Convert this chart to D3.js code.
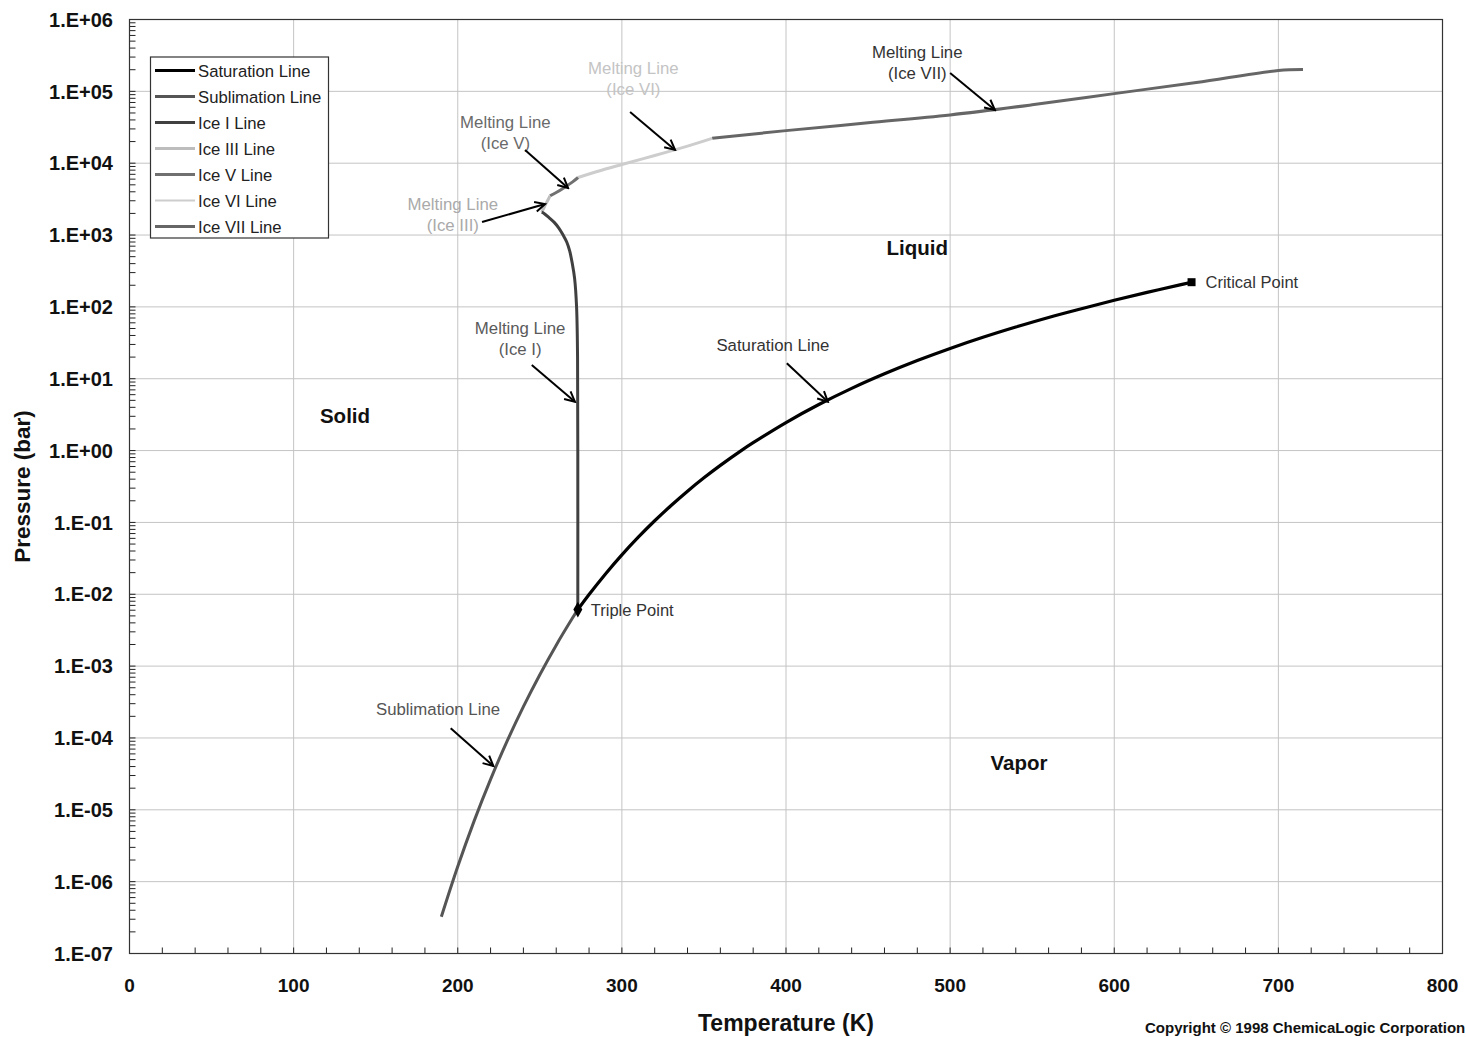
<!DOCTYPE html>
<html>
<head>
<meta charset="utf-8">
<title>Water phase diagram</title>
<script src="https://d3js.org/d3.v7.min.js"></script>
<style>
  body { margin: 0; background: #fff; }
  text { font-family: "Liberation Sans", Arial, sans-serif; }
</style>
</head>
<body>
<div id="chart"></div>
<script>
// temperature (K) and pressure (bar)
let satT = [273.16, 280, 290, 300, 310, 320, 330, 340, 350, 360, 373.15, 380, 400, 420, 440, 460, 480, 500, 520, 540, 560, 580, 600, 620, 640, 647.1];
let satP = [0.006117, 0.009918, 0.0192, 0.03537, 0.06231, 0.1055, 0.1719, 0.2718, 0.4172, 0.6219, 1.0142, 1.2869, 2.4577, 4.373, 7.3367, 11.697, 17.905, 26.392, 37.69, 52.379, 71.225, 94.231, 123.46, 159.11, 202.26, 220.64];

let sublT = [190, 200, 210, 220, 230, 240, 250, 260, 270, 273.16];
let sublP = [3.24e-7, 1.62e-6, 7.01e-6, 2.655e-5, 8.95e-5, 2.728e-4, 7.595e-4, 1.958e-3, 4.70e-3, 6.117e-3];

let ice1T = [273.16, 273.15, 273.0, 272.4, 271.2, 269.8, 268.2, 266.4, 264.2, 261.6, 258.8, 255.6, 252.6, 251.165];
let ice1P = [0.006117, 1, 20, 100, 250, 400, 600, 800, 1000, 1250, 1500, 1750, 2000, 2085];

let ice3T = [251.165, 252.5, 254, 255.2, 256.164];
let ice3P = [2085, 2400, 2800, 3150, 3501];

let ice5T = [256.164, 260, 265, 270, 273.31];
let ice5P = [3501, 3900, 4600, 5500, 6324];

let ice6T = [273.31, 290, 300, 320, 340, 355];
let ice6P = [6324, 8300, 9600, 12800, 17300, 22160];

let ice7T = [355, 400, 450, 500, 550, 600, 650, 700, 715];
let ice7P = [22160, 28400, 36500, 47000, 65000, 93000, 133000, 195000, 201000];

let seriesNames = ["Saturation Line", "Sublimation Line", "Ice I Line", "Ice III Line", "Ice V Line", "Ice VI Line", "Ice VII Line"];
let seriesColors = ["#000000", "#555555", "#404040", "#bdbdbd", "#707070", "#cdcdcd", "#666666"];

let xTicks = [0, 100, 200, 300, 400, 500, 600, 700, 800];
let yTicks = [1e-7, 1e-6, 1e-5, 1e-4, 1e-3, 1e-2, 1e-1, 1, 1e1, 1e2, 1e3, 1e4, 1e5, 1e6];

let triplePoint = [273.16, 0.006117];
let criticalPoint = [647.1, 220.64];

// annotation text: [label lines, T, P, colour]
let notes = [
    [["Melting Line", "(Ice VII)"], 480, 3.5e5, "#333"],
    [["Melting Line", "(Ice VI)"], 307, 2.1e5, "#c4c4c4"],
    [["Melting Line", "(Ice V)"], 229, 3.7e4, "#6a6a6a"],
    [["Melting Line", "(Ice III)"], 197, 2700, "#aaaaaa"],
    [["Melting Line", "(Ice I)"], 238, 51, "#5a5a5a"],
    [["Saturation Line"], 392, 29.4, "#333"],
    [["Sublimation Line"], 188, 2.53e-4, "#555"]
];
// arrows: [T0, P0, T1, P1]
let arrows = [
    [500, 1.8e5, 527.3, 5.5e4],
    [305, 5.16e4, 332.4, 1.53e4],
    [241, 1.53e4, 267.2, 4520],
    [214.8, 1518, 253.2, 2700],
    [245.1, 15.5, 271.4, 4.79],
    [400.5, 16.4, 425.5, 4.79],
    [195.7, 1.36e-4, 221.7, 4.07e-5]
];
let regions = [["Liquid", 480, 661], ["Solid", 131.3, 3.03], ["Vapor", 542, 4.5e-5]];

let W = 1466, H = 1037;
let plot = {left: 129.5, right: 1442.5, top: 19.5, bottom: 953.5};

let svg = d3.select("#chart").append("svg")
    .attr("width", W).attr("height", H);

let x = d3.scaleLinear().domain([0, 800]).range([plot.left, plot.right]);
let y = d3.scaleLog().domain([1e-7, 1e6]).range([plot.bottom, plot.top]);

// grid
svg.append("g").selectAll("line.vg")
    .data(xTicks)
    .join("line")
    .attr("x1", d => x(d)).attr("x2", d => x(d))
    .attr("y1", plot.top).attr("y2", plot.bottom)
    .attr("stroke", "#c4c4c4").attr("stroke-width", 1);
svg.append("g").selectAll("line.hg")
    .data(yTicks)
    .join("line")
    .attr("x1", plot.left).attr("x2", plot.right)
    .attr("y1", d => y(d)).attr("y2", d => y(d))
    .attr("stroke", "#c4c4c4").attr("stroke-width", 1);

// minor ticks (inside)
let minorY = [];
yTicks.slice(0, -1).forEach(d => { for (let k = 2; k <= 9; k++) minorY.push(d * k); });
svg.append("g").selectAll("line")
    .data(minorY.concat(yTicks))
    .join("line")
    .attr("x1", plot.left).attr("x2", plot.left + 6)
    .attr("y1", d => y(d)).attr("y2", d => y(d))
    .attr("stroke", "#222").attr("stroke-width", 1);
svg.append("g").selectAll("line")
    .data(d3.range(0, 801, 20))
    .join("line")
    .attr("x1", d => x(d)).attr("x2", d => x(d))
    .attr("y1", plot.bottom).attr("y2", plot.bottom - 6)
    .attr("stroke", "#222").attr("stroke-width", 1);

// border
svg.append("rect")
    .attr("x", plot.left).attr("y", plot.top)
    .attr("width", plot.right - plot.left).attr("height", plot.bottom - plot.top)
    .attr("fill", "none").attr("stroke", "#333").attr("stroke-width", 1.2);

// tick labels
let fmtExp = d => {
    let e = Math.round(Math.log10(d));
    return "1.E" + (e < 0 ? "-" : "+") + String(Math.abs(e)).padStart(2, "0");
};
svg.append("g").selectAll("text")
    .data(yTicks)
    .join("text")
    .attr("x", 113).attr("y", d => y(d))
    .attr("dy", "0.36em")
    .attr("text-anchor", "end")
    .attr("font-size", 20).attr("font-weight", "bold").attr("fill", "#111")
    .text(fmtExp);
svg.append("g").selectAll("text")
    .data(xTicks)
    .join("text")
    .attr("x", d => x(d)).attr("y", 985)
    .attr("dy", "0.36em")
    .attr("text-anchor", "middle")
    .attr("font-size", 19).attr("font-weight", "bold").attr("fill", "#111")
    .text(d => d);

// axis titles
svg.append("text")
    .attr("x", x(400)).attr("y", 1023).attr("dy", "0.36em")
    .attr("text-anchor", "middle")
    .attr("font-size", 23).attr("font-weight", "bold").attr("fill", "#111")
    .text("Temperature (K)");
svg.append("text")
    .attr("transform", "translate(22," + ((plot.top + plot.bottom) / 2) + ") rotate(-90)")
    .attr("dy", "0.36em")
    .attr("text-anchor", "middle")
    .attr("font-size", 22.5).attr("font-weight", "bold").attr("fill", "#111")
    .text("Pressure (bar)");
svg.append("text")
    .attr("x", 1145).attr("y", 1033)
    .attr("font-size", 15).attr("font-weight", "bold").attr("fill", "#111")
    .text("Copyright \u00a9 1998 ChemicaLogic Corporation");

// series
let allT = [satT, sublT, ice1T, ice3T, ice5T, ice6T, ice7T];
let allP = [satP, sublP, ice1P, ice3P, ice5P, ice6P, ice7P];
let series = seriesNames.map((name, i) => ({
    name: name,
    color: seriesColors[i],
    values: allT[i].map((t, j) => [t, allP[i][j]])
}));

let line = d3.line()
    .x(d => x(d[0])).y(d => y(d[1]))
    .curve(d3.curveCatmullRom.alpha(0.5));

// draw back to front so the saturation line sits on top
svg.append("g").selectAll("path")
    .data(series.slice().reverse())
    .join("path")
    .attr("d", d => line(d.values))
    .attr("fill", "none")
    .attr("stroke", d => d.color)
    .attr("stroke-width", d => d.name == "Saturation Line" ? 3.2 : 3)
    .attr("stroke-linejoin", "round");

// points
svg.append("path")
    .attr("d", d3.symbol().type(d3.symbolDiamond).size(70)())
    .attr("transform", "translate(" + x(triplePoint[0]) + "," + y(triplePoint[1]) + ")")
    .attr("fill", "#000");
svg.append("path")
    .attr("d", d3.symbol().type(d3.symbolSquare).size(64)())
    .attr("transform", "translate(" + x(criticalPoint[0]) + "," + y(criticalPoint[1]) + ")")
    .attr("fill", "#000");
svg.append("text")
    .attr("x", x(triplePoint[0]) + 13).attr("y", y(triplePoint[1])).attr("dy", "0.36em")
    .attr("font-size", 16.5).attr("fill", "#333")
    .text("Triple Point");
svg.append("text")
    .attr("x", x(criticalPoint[0]) + 14).attr("y", y(criticalPoint[1])).attr("dy", "0.36em")
    .attr("font-size", 16.5).attr("fill", "#333")
    .text("Critical Point");

// annotations
notes.forEach(n => {
    let t = svg.append("text")
        .attr("text-anchor", "middle")
        .attr("font-size", 16.8).attr("fill", n[3]);
    n[0].forEach((s, i) => {
        t.append("tspan")
            .attr("x", x(n[1]))
            .attr("y", y(n[2]) + i * 21)
            .attr("dy", "0.36em")
            .text(s);
    });
});

svg.append("defs").append("marker")
    .attr("id", "arr")
    .attr("viewBox", "-12 -7 14 14")
    .attr("refX", 0).attr("refY", 0)
    .attr("markerWidth", 14).attr("markerHeight", 14)
    .attr("markerUnits", "userSpaceOnUse")
    .attr("orient", "auto")
    .append("path")
    .attr("d", "M-10,-5 L0,0 L-10,5")
    .attr("fill", "none").attr("stroke", "#000").attr("stroke-width", 2);

svg.append("g").selectAll("line")
    .data(arrows)
    .join("line")
    .attr("x1", d => x(d[0])).attr("y1", d => y(d[1]))
    .attr("x2", d => x(d[2])).attr("y2", d => y(d[3]))
    .attr("stroke", "#000").attr("stroke-width", 2)
    .attr("marker-end", "url(#arr)");

svg.append("g").selectAll("text")
    .data(regions)
    .join("text")
    .attr("x", d => x(d[1])).attr("y", d => y(d[2]))
    .attr("dy", "0.36em")
    .attr("text-anchor", "middle")
    .attr("font-size", 20.5).attr("font-weight", "bold").attr("fill", "#111")
    .text(d => d[0]);

// legend
let lg = svg.append("g");
lg.append("rect")
    .attr("x", 150.5).attr("y", 57).attr("width", 178).attr("height", 181)
    .attr("fill", "#fff").attr("stroke", "#333").attr("stroke-width", 1.2);
let item = lg.selectAll("g")
    .data(series)
    .join("g")
    .attr("transform", (d, i) => "translate(0," + (70.5 + i * 26) + ")");
item.append("line")
    .attr("x1", 155).attr("x2", 195)
    .attr("stroke", d => d.color)
    .attr("stroke-width", d => d.name == "Ice VI Line" ? 2 : 3);
item.append("text")
    .attr("x", 198).attr("dy", "0.36em")
    .attr("font-size", 16.7).attr("fill", "#222")
    .text(d => d.name);
</script>
</body>
</html>
